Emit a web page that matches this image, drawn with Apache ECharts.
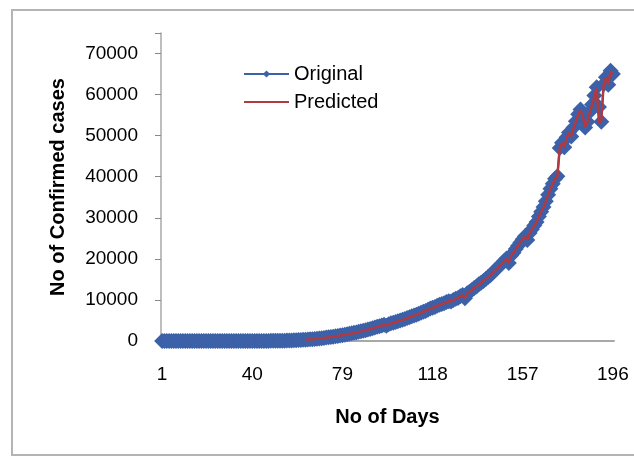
<!DOCTYPE html>
<html>
<head>
<meta charset="utf-8">
<script src="https://cdn.jsdelivr.net/npm/echarts@6/dist/echarts.min.js"></script>
<style>
  html, body { margin: 0; padding: 0; background: #fff; }
  #chart { width: 634px; height: 457px; }
</style>
</head>
<body>
<div id="chart"></div>
<script>
// day labels 1..196
const days = Array.from({ length: 196 }, (_, i) => String(i + 1))

// confirmed cases, day 1..196
const original = [
  0, 0, 0, 0, 0, 0, 0, 0, 0, 0,
  0, 0, 0, 0, 0, 0, 0, 0, 0, 0,
  0, 0, 0, 0, 0, 0, 0, 0, 0, 0,
  0, 0, 0, 0, 0, 0, 3, 5, 6, 8,
  10, 12, 15, 18, 22, 25, 30, 35, 40, 48,
  55, 65, 75, 90, 105, 120, 140, 160, 190, 215,
  250, 280, 320, 360, 400, 450, 500, 560, 620, 690,
  760, 830, 900, 980, 1060, 1150, 1240, 1330, 1430, 1530,
  1640, 1750, 1860, 1980, 2100, 2230, 2360, 2500, 2640, 2790,
  2950, 3100, 3280, 3450, 3600, 3800, 3950, 3700, 4100, 4300,
  4450, 4600, 4800, 5000, 5150, 5350, 5600, 5800, 6000, 6200,
  6400, 6650, 6900, 7150, 7300, 7600, 7900, 8100, 8300, 8600,
  8800, 9000, 9200, 9500, 9700, 9600, 10000, 10300, 10500, 10900,
  11200, 10400, 11600, 12000, 12400, 12900, 13300, 13800, 14200, 14600,
  15100, 15600, 16000, 16600, 17200, 17700, 18300, 18900, 19500, 20100,
  19000, 20800, 21500, 22400, 23200, 24000, 24800, 25500, 24600, 26300,
  27200, 28100, 29000, 30300, 31500, 32600, 34000, 35600, 37100, 38300,
  39500, 40100, 47000, 48300, 47200, 49600, 50800, 49800, 52000, 53500,
  55200, 56400, 54600, 52000, 53400, 55800, 57600, 59800, 61800, 57000,
  53400, 62500, 64200, 62400, 65800, 65000
]

// predicted cases, starts at day 63
const predicted = [
  null, null, null, null, null, null, null, null, null, null,
  null, null, null, null, null, null, null, null, null, null,
  null, null, null, null, null, null, null, null, null, null,
  null, null, null, null, null, null, null, null, null, null,
  null, null, null, null, null, null, null, null, null, null,
  null, null, null, null, null, null, null, null, null, null,
  null, null, 310, 350, 395, 440, 495, 550, 615, 680,
  750, 820, 895, 970, 1050, 1140, 1230, 1320, 1420, 1520,
  1630, 1740, 1850, 1970, 2090, 2220, 2350, 2490, 2630, 2780,
  2940, 3090, 3260, 3430, 3590, 3780, 3930, 3750, 4080, 4280,
  4440, 4590, 4780, 4980, 5140, 5340, 5580, 5790, 5990, 6190,
  6390, 6630, 6880, 7130, 7300, 7580, 7870, 8090, 8290, 8580,
  8790, 8990, 9190, 9480, 9690, 9620, 9980, 10280, 10490, 10870,
  11170, 10500, 11580, 11980, 12380, 12870, 13280, 13780, 14180, 14590,
  15080, 15580, 15990, 16580, 17180, 17690, 18280, 18880, 19480, 20080,
  19100, 20780, 21480, 22380, 23180, 23980, 24780, 25480, 24700, 26280,
  27180, 28080, 28980, 30280, 31480, 32580, 33980, 35580, 37080, 38280,
  39480, 40080, 46900, 48200, 47300, 49500, 50700, 49900, 51900, 53400,
  55100, 56300, 54700, 52100, 53300, 55700, 57500, 59700, 61700, 53000,
  53500, 62400, 64100, 62500, 65700, 65000
]

const font = '"Liberation Sans", Arial, sans-serif'
const chart = echarts.init(document.getElementById('chart'), null, { renderer: 'canvas' })
chart.setOption({
  backgroundColor: '#fff',
  animation: false,
  textStyle: { fontFamily: font, color: '#000' },
  graphic: [
    {
      type: 'rect',
      shape: { x: 12, y: 10, width: 640, height: 445 },
      style: { fill: 'none', stroke: '#b4b4b4', lineWidth: 2 },
      silent: true,
    },
  ],
  legend: {
    orient: 'vertical',
    left: 238,
    top: 59,
    itemWidth: 45,
    itemHeight: 9,
    itemGap: 8,
    textStyle: { fontFamily: font, fontSize: 20, color: '#000' },
    data: ['Original', { name: 'Predicted', itemStyle: { opacity: 0 } }],
  },
  grid: { left: 161, right: 20, top: 33, bottom: 116 },
  xAxis: {
    type: 'category',
    data: days,
    boundaryGap: true,
    name: 'No of Days',
    nameLocation: 'middle',
    nameGap: 66,
    nameTextStyle: { fontFamily: font, fontSize: 20, fontWeight: 'bold', color: '#000' },
    axisLine: { lineStyle: { color: '#a8a8a8', width: 2 } },
    axisTick: { interval: 38, alignWithLabel: true, length: 6, lineStyle: { color: '#888' } },
    axisLabel: { interval: 38, margin: 24, fontSize: 19, color: '#000', fontFamily: font },
    splitLine: { show: false },
  },
  yAxis: {
    type: 'value',
    min: 0,
    max: 75000,
    interval: 10000,
    name: 'No of Confirmed cases',
    nameLocation: 'middle',
    nameGap: 93,
    nameRotate: 90,
    nameTextStyle: { fontFamily: font, fontSize: 20, fontWeight: 'bold', color: '#000' },
    axisLine: { show: true, lineStyle: { color: '#a8a8a8', width: 1.5 } },
    axisTick: { show: true, length: 6, lineStyle: { color: '#888' } },
    axisLabel: {
      margin: 23,
      fontSize: 19,
      color: '#000',
      fontFamily: font,
      formatter: (v) => (v > 70000 ? '' : String(v)),
    },
    splitLine: { show: false },
  },
  series: [
    {
      name: 'Original',
      type: 'line',
      data: original,
      symbol: 'diamond',
      symbolSize: 16,
      showAllSymbol: true,
      lineStyle: { color: '#3c61a8', width: 2 },
      itemStyle: { color: '#3c61a8' },
      z: 2,
    },
    {
      name: 'Predicted',
      type: 'line',
      data: predicted,
      symbol: 'none',
      lineStyle: { color: '#b03a3f', width: 2.5 },
      itemStyle: { color: '#b03a3f' },
      z: 3,
    },
  ],
})
</script>
</body>
</html>
